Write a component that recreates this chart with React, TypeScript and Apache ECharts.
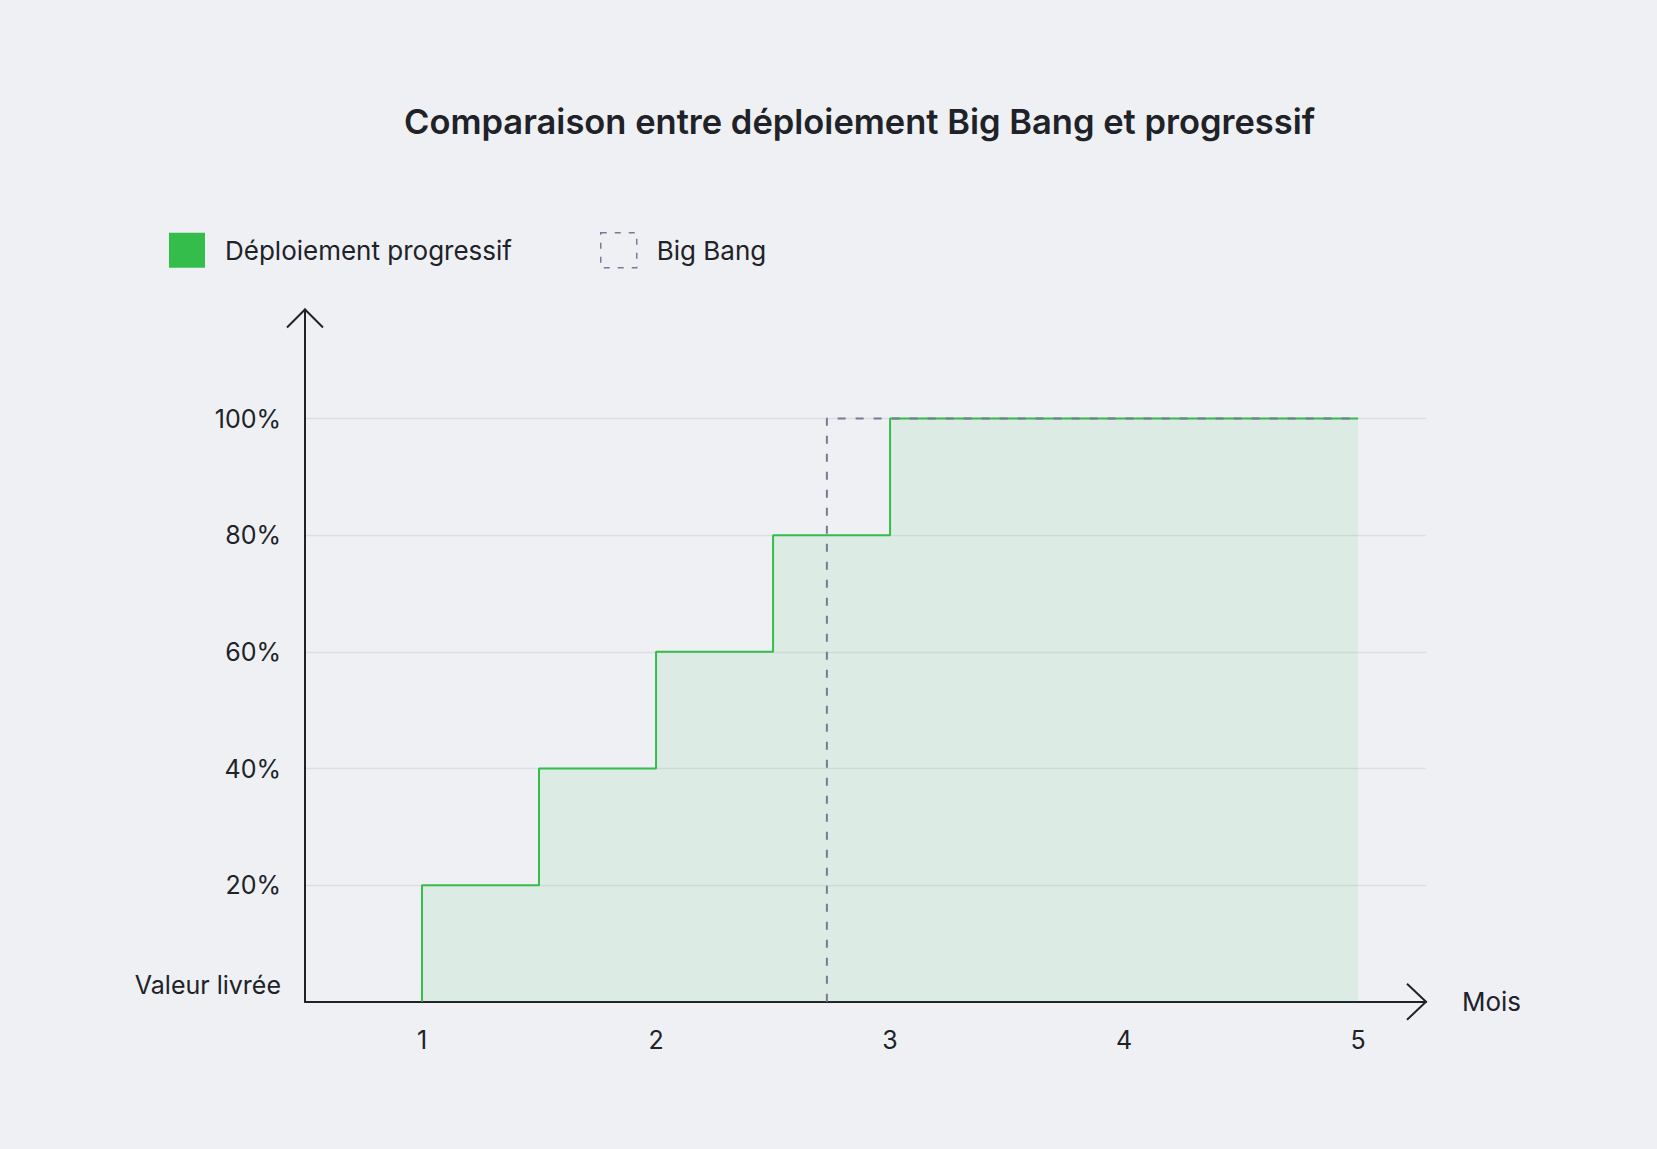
import { useEffect, useRef } from "react";
import * as echarts from "echarts";

const months = [1, 1, 1.5, 2, 2.5, 3, 5];
const progressive = [0, 20, 40, 60, 80, 100, 100];
const bigBangMonths = [2.73, 2.73, 5];
const bigBang = [0, 100, 100];
const yTicks = [20, 40, 60, 80, 100];
const xTicks = [1, 2, 3, 4, 5];

const W = 1657;
const H = 1149;
const GRID_LEFT = 305;
const GRID_TOP = 309.5;
const GRID_RIGHT_X = 1426;
const GRID_BOTTOM_Y = 1001.8;
const X_MIN = 0.5;
const X_MAX = 5.29;
const Y_MAX = 118.7;

const font = "Inter, sans-serif";
const dark = "#202228";
const green = "#34bd4a";
const dash = "#767a94";

export default function App() {
  const ref = useRef<HTMLDivElement>(null);

  useEffect(() => {
    if (!ref.current) return;
    const chart = echarts.init(ref.current, null, { renderer: "svg" });

    const option: echarts.EChartsOption = {
      animation: false,
      backgroundColor: "#eef0f4",
      textStyle: { fontFamily: font },
      title: {
        text: "Comparaison entre déploiement Big Bang et progressif",
        left: 404,
        top: 104,
        padding: 0,
        textStyle: { fontFamily: font, fontSize: 34.5, fontWeight: 600, color: dark },
      },
      legend: {
        left: 169,
        top: 232,
        padding: 0,
        itemWidth: 36,
        itemHeight: 35,
        itemGap: 88,
        textStyle: { fontFamily: font, fontSize: 26, color: dark, padding: [0, 0, 0, 15] },
        data: [
          { name: "Déploiement progressif", icon: "rect", itemStyle: { color: green, borderWidth: 0 } },
          {
            name: "Big Bang",
            icon: "rect",
            itemStyle: { color: "transparent", borderColor: dash, borderWidth: 1.5, borderType: [6, 8] },
          },
        ],
      },
      grid: {
        left: GRID_LEFT,
        top: GRID_TOP,
        width: GRID_RIGHT_X - GRID_LEFT,
        height: GRID_BOTTOM_Y - GRID_TOP,
        containLabel: false,
      },
      xAxis: {
        type: "value",
        min: X_MIN,
        max: X_MAX,
        interval: 0.5,
        name: "Mois",
        nameLocation: "end",
        nameGap: 36,
        nameTextStyle: { fontFamily: font, fontSize: 26, color: dark },
        axisLine: { show: true, lineStyle: { color: dark, width: 2 } },
        axisTick: { show: false },
        splitLine: { show: false },
        axisLabel: {
          margin: 26,
          fontFamily: font,
          fontSize: 25,
          color: dark,
          showMaxLabel: false,
          formatter: (v: number) => (xTicks.includes(v) ? String(v) : ""),
        },
      },
      yAxis: {
        type: "value",
        min: 0,
        max: Y_MAX,
        interval: 20,
        axisLine: { show: true, lineStyle: { color: dark, width: 2 } },
        axisTick: { show: false },
        splitLine: {
          show: true,
          showMinLine: false,
          showMaxLine: false,
          lineStyle: { color: "#dcdee4", width: 1.3 },
        },
        axisLabel: {
          margin: 24,
          fontFamily: font,
          fontSize: 25,
          color: dark,
          showMaxLabel: false,
          formatter: (v: number) =>
            v === 0 ? "{base|Valeur livrée}" : yTicks.includes(v) ? v + "%" : "",
          rich: {
            base: { fontFamily: font, fontSize: 25, color: dark, padding: [0, 0, 34, 0] },
          },
        },
      },
      graphic: [
        {
          type: "polyline",
          shape: {
            points: [
              [GRID_LEFT - 18, GRID_TOP + 18],
              [GRID_LEFT, GRID_TOP],
              [GRID_LEFT + 18, GRID_TOP + 18],
            ],
          },
          style: { stroke: dark, lineWidth: 2, fill: "none" },
          z: 100,
        },
        {
          type: "polyline",
          shape: {
            points: [
              [GRID_RIGHT_X - 19, GRID_BOTTOM_Y - 18],
              [GRID_RIGHT_X, GRID_BOTTOM_Y],
              [GRID_RIGHT_X - 19, GRID_BOTTOM_Y + 18],
            ],
          },
          style: { stroke: dark, lineWidth: 2, fill: "none" },
          z: 100,
        },
      ],
      series: [
        {
          name: "Déploiement progressif",
          type: "line",
          step: "end",
          symbol: "none",
          data: months.map((m, i) => [m, progressive[i]]),
          lineStyle: { color: green, width: 2 },
          itemStyle: { color: green },
          areaStyle: { color: "rgba(52,189,74,0.13)" },
          z: 3,
        },
        {
          name: "Big Bang",
          type: "line",
          symbol: "none",
          data: bigBangMonths.map((m, i) => [m, bigBang[i]]),
          lineStyle: { color: dash, width: 2, type: [8, 10] },
          itemStyle: { color: dash },
          z: 4,
        },
      ],
    };

    chart.setOption(option);
    return () => chart.dispose();
  }, []);

  return (
    <div
      ref={ref}
      style={{ position: "fixed", left: 0, top: 0, width: W, height: H }}
    />
  );
}
